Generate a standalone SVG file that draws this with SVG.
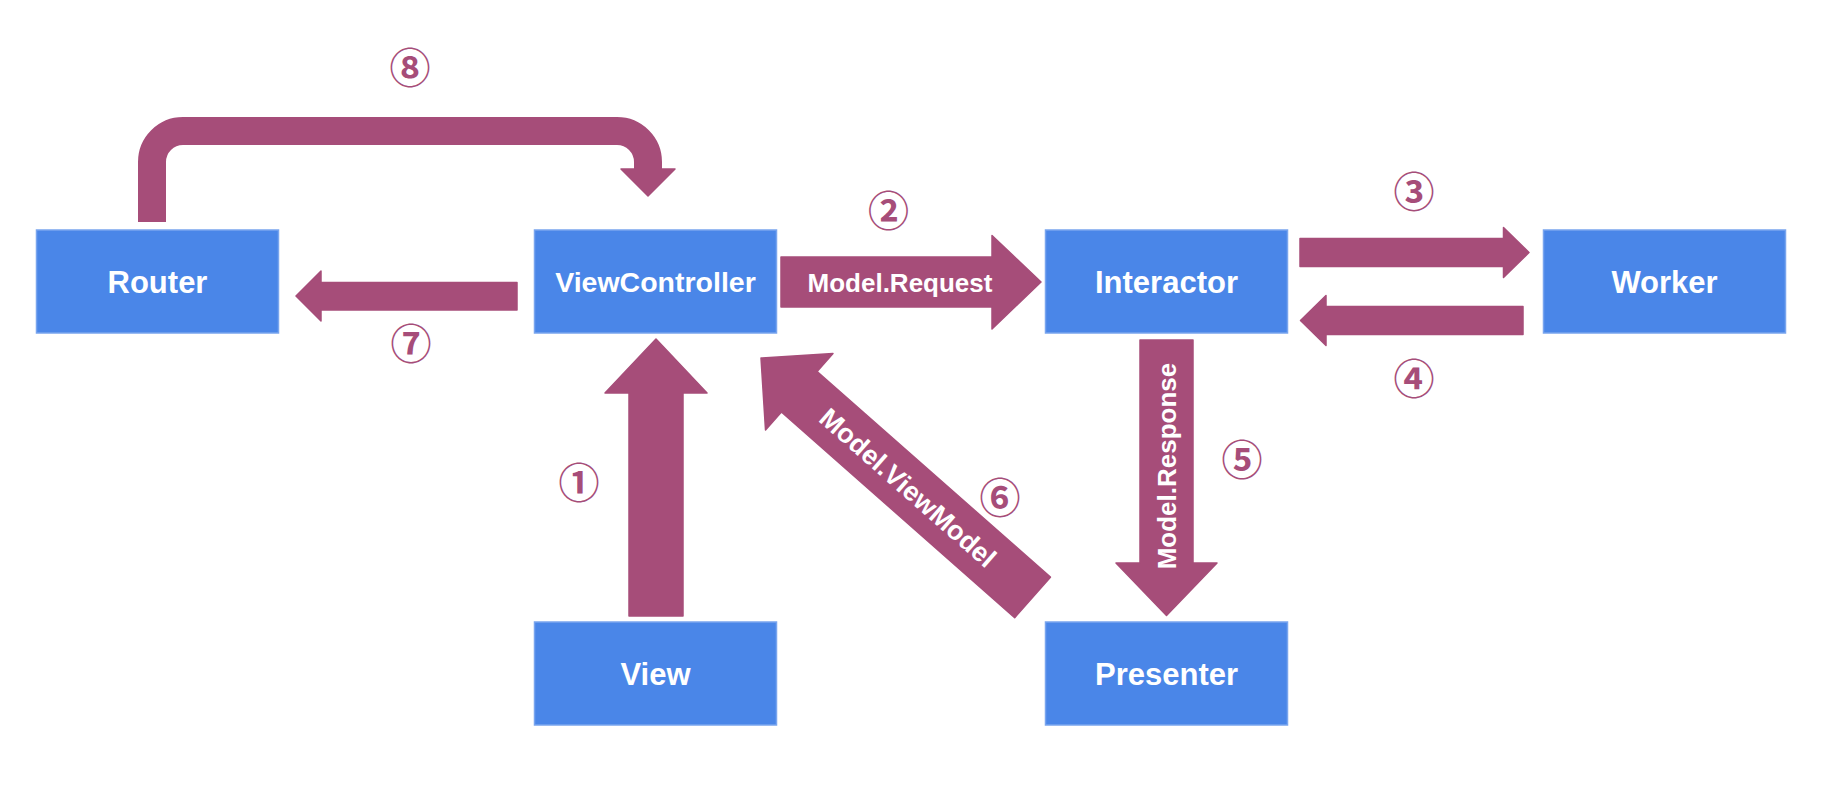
<svg xmlns="http://www.w3.org/2000/svg" width="1824" height="804" viewBox="0 0 1824 804">
<style>
.box{fill:#4a86e8;stroke:#79a5ee;stroke-width:1.5}
.lbl{font-family:"Liberation Sans",Arial,sans-serif;font-weight:bold;font-size:31px;fill:#ffffff;text-anchor:middle}
.arr{fill:#a64d79;stroke:#a64d79;stroke-width:1.5;stroke-linejoin:round}
.alb{font-family:"Liberation Sans",Arial,sans-serif;font-weight:bold;font-size:26px;fill:#ffffff;text-anchor:middle}
.num{font-family:"Noto Sans CJK JP","DejaVu Sans",sans-serif;font-weight:bold;font-size:41px;fill:#a64d79;text-anchor:middle}
</style>
<rect width="1824" height="804" fill="#ffffff"/>
<g id="connectors">
  <g id="arrow8">
    <path d="M152 222 V162 A31 31 0 0 1 183 131 H617 A31 31 0 0 1 648 162 V170" fill="none" stroke="#a64d79" stroke-width="28"/>
    <polygon class="arr" points="621,169 675,169 648,196"/>
  </g>
  <polygon id="arrow7" class="arr" points="296,296 321,271 321,282.5 517,282.5 517,310 321,310 321,321"/>
  <g id="arrow2">
    <polygon class="arr" points="781,257 992,257 992,235.5 1041,282 992,329 992,307 781,307"/>
    <text class="alb" x="900" y="291.5">Model.Request</text>
  </g>
  <polygon id="arrow3" class="arr" points="1300,238.5 1503.5,238.5 1503.5,227.5 1529,252.5 1503.5,277.5 1503.5,266.5 1300,266.5"/>
  <polygon id="arrow4" class="arr" points="1523,306.5 1326,306.5 1326,295.5 1300.5,320.5 1326,345.5 1326,334.5 1523,334.5"/>
  <polygon id="arrow1" class="arr" points="656,339 707,393 683,393 683,616 629,616 629,393 605,393"/>
  <g id="arrow5">
    <polygon class="arr" points="1140,340 1193,340 1193,563 1217,563 1166.5,615.5 1116,563 1140,563"/>
    <text class="alb" transform="translate(1175.8,466) rotate(-90)" x="0" y="0">Model.Response</text>
  </g>
  <g id="arrow6" transform="translate(761,358) rotate(41.4)">
    <polygon class="arr" points="0,0 51,-51 51,-27 362,-27 362,27 51,27 51,51"/>
    <text class="alb" x="196" y="9.5" style="font-size:27px">Model.ViewModel</text>
  </g>
</g>
<g id="numbers">
  <text class="num" x="579" y="498">①</text>
  <text class="num" x="888.5" y="226">②</text>
  <text class="num" x="1414" y="207">③</text>
  <text class="num" x="1414" y="394">④</text>
  <text class="num" x="1242" y="475">⑤</text>
  <text class="num" x="1000" y="513">⑥</text>
  <text class="num" x="411" y="359">⑦</text>
  <text class="num" x="410" y="82.5">⑧</text>
</g>
<g id="router"><rect class="box" x="36.5" y="230" width="242" height="103"/><text class="lbl" x="157.5" y="293">Router</text></g>
<g id="viewcontroller"><rect class="box" x="534.5" y="230" width="242" height="103"/><text class="lbl" x="655.5" y="291.8" style="font-size:28.5px">ViewController</text></g>
<g id="interactor"><rect class="box" x="1045.5" y="230" width="242" height="103"/><text class="lbl" x="1166.5" y="292.8">Interactor</text></g>
<g id="worker"><rect class="box" x="1543.5" y="230" width="242" height="103"/><text class="lbl" x="1664.5" y="293">Worker</text></g>
<g id="view"><rect class="box" x="534.5" y="622" width="242" height="103"/><text class="lbl" x="655.5" y="684.5">View</text></g>
<g id="presenter"><rect class="box" x="1045.5" y="622" width="242" height="103"/><text class="lbl" x="1166.5" y="684.5">Presenter</text></g>
</svg>
